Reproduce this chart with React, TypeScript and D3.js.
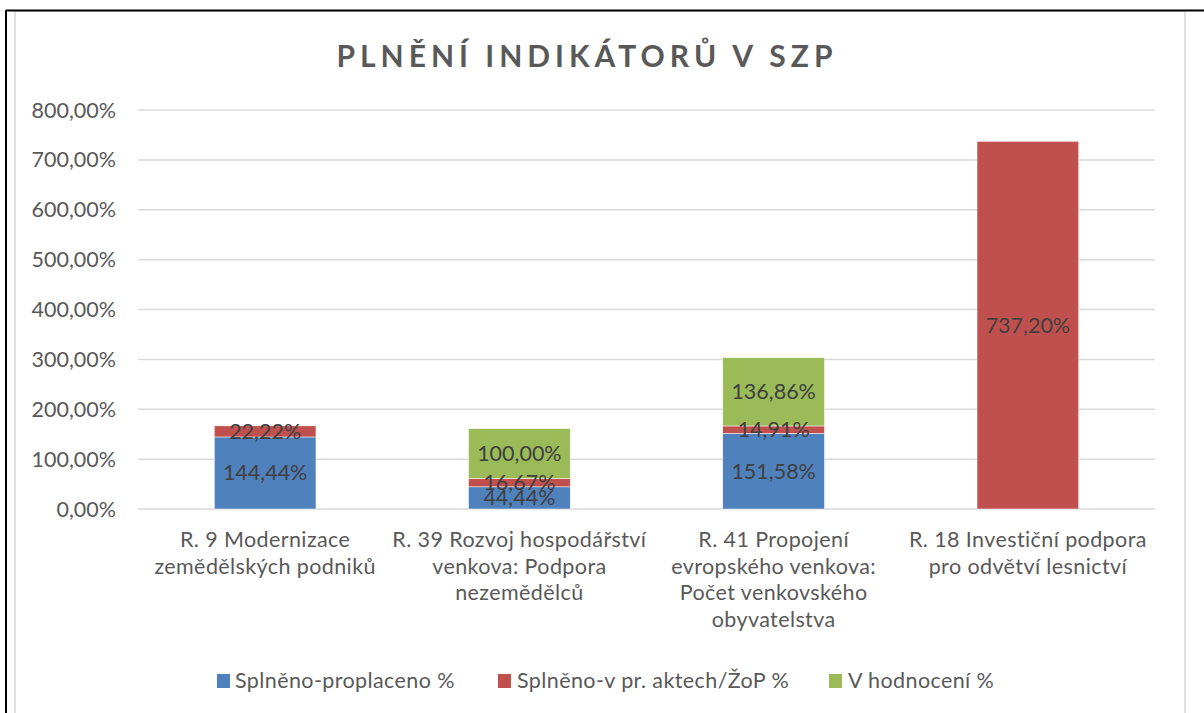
import React from "react";
import * as d3 from "d3";

const categories: string[][] = [
  ["R. 9 Modernizace", "zemědělských podniků"],
  ["R. 39 Rozvoj hospodářství", "venkova: Podpora", "nezemědělců"],
  ["R. 41 Propojení", "evropského venkova:", "Počet venkovského", "obyvatelstva"],
  ["R. 18 Investiční podpora", "pro odvětví lesnictví"],
];
const seriesNames = ["Splněno-proplaceno %", "Splněno-v pr. aktech/ŽoP %", "V hodnocení %"];
const seriesColors = ["#4F81BD", "#C0504D", "#9BBB59"];
const proplaceno = [144.44, 44.44, 151.58, 0];
const vAktech = [22.22, 16.67, 14.91, 737.2];
const vHodnoceni = [0, 100.0, 136.86, 0];
const yTicks = [0, 100, 200, 300, 400, 500, 600, 700, 800];

const fmt = (v: number) => v.toFixed(2).replace(".", ",") + "%";
const FONT = "Lato, 'Open Sans', sans-serif";

export default function App() {
  const W = 1204, H = 713;
  const left = 138, right = 1155, top = 110, bottom = 509;
  const x = d3.scaleBand<number>().domain(d3.range(categories.length)).range([left, right]).paddingInner(0.6).paddingOuter(0.3);
  const y = d3.scaleLinear().domain([0, 800]).range([bottom, top]);
  const data = categories.map((_, i) => ({ i, s0: proplaceno[i], s1: vAktech[i], s2: vHodnoceni[i] }));
  const stack = d3.stack<any>().keys(["s0", "s1", "s2"])(data);

  const legendItems = [
    { x: 217, tx: 235 },
    { x: 498, tx: 517 },
    { x: 829, tx: 848 },
  ];

  return (
    <div style={{ position: "fixed", left: 0, top: 0 }}>
      <svg width={W} height={H} style={{ display: "block", background: "#fff" }}>
        {/* frame */}
        <rect x={15} y={11} width={1170} height={H} fill="#fff" stroke="#d9d9d9" strokeWidth={1.5} />
        <line x1={6} y1={10.5} x2={W} y2={10.5} stroke="#000" strokeWidth={2} />
        <line x1={6} y1={10} x2={6} y2={H} stroke="#000" strokeWidth={2} />

        <text x={587} y={67} textAnchor="middle" fontFamily={FONT} fontWeight={700} fontSize={30} letterSpacing={5} fill="#595959">
          PLNĚNÍ INDIKÁTORŮ V SZP
        </text>

        {yTicks.map((t) => (
          <g key={t}>
            <line x1={left} x2={right} y1={y(t)} y2={y(t)} stroke="#d9d9d9" strokeWidth={1.5} />
            <text x={116} y={y(t) + 7.5} textAnchor="end" fontFamily={FONT} fontSize={21.5} fill="#595959">
              {fmt(t)}
            </text>
          </g>
        ))}

        {stack.map((layer, si) =>
          layer.map((d, i) => {
            const v = d[1] - d[0];
            if (v <= 0) return null;
            return (
              <rect key={`${si}-${i}`} x={x(i)} width={x.bandwidth()} y={y(d[1])} height={y(d[0]) - y(d[1])}
                fill={seriesColors[si]} stroke="#fff" strokeWidth={0.5} />
            );
          })
        )}
        {stack.map((layer, si) =>
          layer.map((d, i) => {
            const v = d[1] - d[0];
            if (v <= 0) return null;
            return (
              <text key={`l${si}-${i}`} x={(x(i) as number) + x.bandwidth() / 2} y={(y(d[0]) + y(d[1])) / 2 + 7.5}
                textAnchor="middle" fontFamily={FONT} fontSize={21.5} fill="#404040">
                {fmt(v)}
              </text>
            );
          })
        )}

        {categories.map((lines, i) => (
          <text key={i} textAnchor="middle" fontFamily={FONT} fontSize={21.5} letterSpacing={0.4} fill="#595959">
            {lines.map((ln, k) => (
              <tspan key={k} x={(x(i) as number) + x.bandwidth() / 2} y={547 + k * 26.7}>
                {ln}
              </tspan>
            ))}
          </text>
        ))}

        {seriesNames.map((n, si) => (
          <g key={n}>
            <rect x={legendItems[si].x} y={674} width={13} height={14} fill={seriesColors[si]} />
            <text x={legendItems[si].tx} y={688} fontFamily={FONT} fontSize={21.5} letterSpacing={0.4} fill="#595959">
              {n}
            </text>
          </g>
        ))}
      </svg>
    </div>
  );
}
